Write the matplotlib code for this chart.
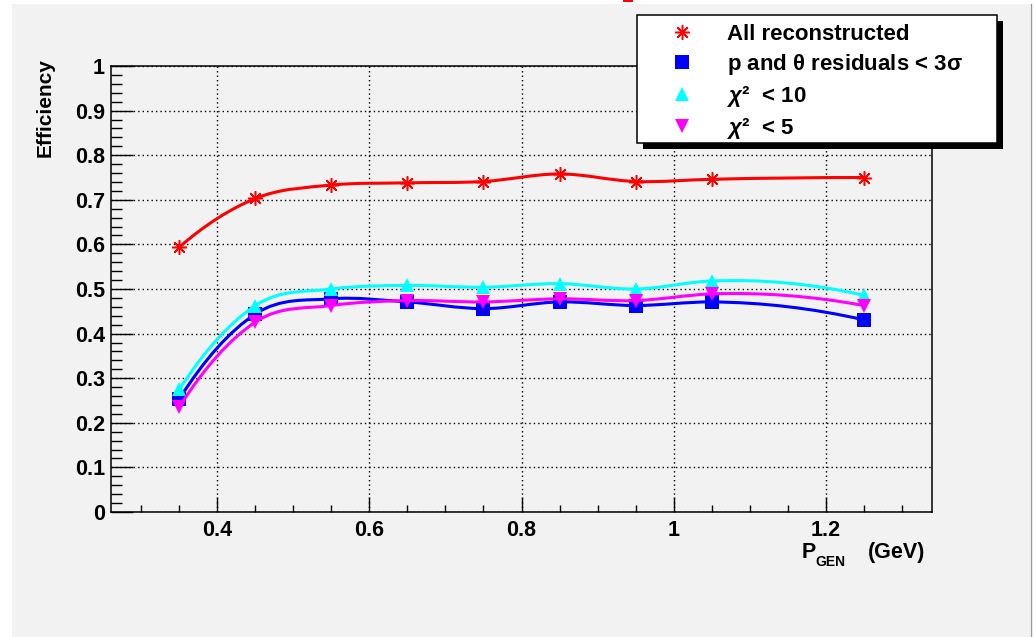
import numpy as np
import matplotlib
matplotlib.use("Agg")
import matplotlib.pyplot as plt
from matplotlib.path import Path
from matplotlib.patches import PathPatch, Rectangle
from matplotlib.lines import Line2D
from matplotlib.ticker import FixedLocator, MultipleLocator

# ---- data -------------------------------------------------------------
# generated momentum bins (GeV)
p_gen = [0.35, 0.45, 0.55, 0.65, 0.75, 0.85, 0.95, 1.05, 1.25]

eff_all = [0.594, 0.703, 0.733, 0.738, 0.741, 0.758, 0.741, 0.746, 0.750]
eff_resid = [0.254, 0.444, 0.478, 0.471, 0.456, 0.471, 0.463, 0.471, 0.431]
eff_chi10 = [0.275, 0.463, 0.500, 0.508, 0.504, 0.512, 0.500, 0.518, 0.486]
eff_chi5 = [0.236, 0.426, 0.463, 0.474, 0.471, 0.478, 0.474, 0.489, 0.463]

series_labels = [
    "All reconstructed",
    r"p and $\mathsf{\theta}$ residuals < 3$\mathsf{\sigma}$",
    r"$\chi$²  < 10",
    r"$\chi$²  < 5",
]

x_ticks = [0.4, 0.6, 0.8, 1.0, 1.2]
x_tick_labels = ["0.4", "0.6", "0.8", "1", "1.2"]
y_ticks = [0.0, 0.1, 0.2, 0.3, 0.4, 0.5, 0.6, 0.7, 0.8, 0.9, 1.0]
y_tick_labels = ["0", "0.1", "0.2", "0.3", "0.4", "0.5", "0.6", "0.7", "0.8", "0.9", "1"]

# ---- style ------------------------------------------------------------
plt.rcParams["font.family"] = ["Liberation Sans", "DejaVu Sans"]
plt.rcParams["font.weight"] = "bold"
plt.rcParams["mathtext.fontset"] = "custom"
plt.rcParams["mathtext.rm"] = "Liberation Sans:bold"
plt.rcParams["mathtext.bf"] = "Liberation Sans:bold"
plt.rcParams["mathtext.it"] = "Liberation Sans:italic"
plt.rcParams["mathtext.sf"] = "Liberation Sans"

W, H = 1034, 637
DPI = 100
fig = plt.figure(figsize=(W / DPI, H / DPI), dpi=DPI)
fig.patch.set_facecolor("white")


def fx(px):
    return px / W


def fy(py):
    return 1 - py / H


# canvas fill
fig.add_artist(Rectangle((fx(12), 0), fx(1030) - fx(12), fy(4), transform=fig.transFigure,
                         facecolor="#f2f2f2", edgecolor="none", zorder=-10))
fig.add_artist(Line2D([fx(1030.5), fx(1030.5)], [0, fy(4)], transform=fig.transFigure,
                      color="#9a9a9a", lw=1.0, zorder=-9))
# edge of the page heading, clipped at the top
fig.add_artist(Rectangle((fx(623), fy(2)), fx(10), fy(0) - fy(2), transform=fig.transFigure,
                         facecolor="red", edgecolor="none", zorder=-8))

ax = fig.add_axes([fx(111), fy(512), fx(932) - fx(111), fy(66) - fy(512)])
ax.set_facecolor("none")
ax.set_xlim(0.26, 1.34)
ax.set_ylim(0, 1)

for s in ax.spines.values():
    s.set_linewidth(1.1)
    s.set_color("black")

ax.xaxis.set_major_locator(FixedLocator(x_ticks))
ax.set_xticklabels(x_tick_labels)
ax.xaxis.set_minor_locator(MultipleLocator(0.05))
ax.yaxis.set_major_locator(FixedLocator(y_ticks))
ax.set_yticklabels(y_tick_labels)
ax.yaxis.set_minor_locator(MultipleLocator(0.02))

ax.tick_params(axis="x", which="major", direction="in", length=10.8, width=1.0, pad=5.5,
               labelsize=15.5, top=False)
ax.tick_params(axis="x", which="minor", direction="in", length=5.0, width=1.0, top=False)
ax.tick_params(axis="y", which="major", direction="in", length=15.8, width=1.0, pad=4.5,
               labelsize=15.5, right=False)
ax.tick_params(axis="y", which="minor", direction="in", length=7.9, width=1.0, right=False)

ax.grid(True, which="major", color="black", linestyle=(0, (1, 2.2)), linewidth=1.0)
ax.set_axisbelow(True)


def smooth_path(x, y):
    """Cubic Bezier path through the points, tangents from local parabolas."""
    x = np.asarray(x, float)
    y = np.asarray(y, float)
    n = len(x)
    m = np.empty(n)
    for i in range(n):
        j = min(max(i - 1, 0), n - 3)
        c = np.polyfit(x[j:j + 3], y[j:j + 3], 2)
        m[i] = 2 * c[0] * x[i] + c[1]
    verts = [(x[0], y[0])]
    codes = [Path.MOVETO]
    for i in range(n - 1):
        h = x[i + 1] - x[i]
        verts += [(x[i] + h / 3, y[i] + m[i] * h / 3),
                  (x[i + 1] - h / 3, y[i + 1] - m[i + 1] * h / 3),
                  (x[i + 1], y[i + 1])]
        codes += [Path.CURVE4] * 3
    return Path(verts, codes)


series = [
    (eff_all, "#ff0000", (8, 2, 0), 10.5, 1.1),
    (eff_resid, "#0000ff", "s", 9.5, 0),
    (eff_chi10, "#00ffff", "^", 10.0, 0),
    (eff_chi5, "#ff00ff", "v", 10.0, 0),
]

handles = []
for k, (vals, col, mk, ms, mew) in enumerate(series):
    ax.add_patch(PathPatch(smooth_path(p_gen, vals), facecolor="none", edgecolor=col,
                           lw=2.2, zorder=3 + k))
    ax.plot(p_gen, vals, linestyle="none", marker=mk, ms=ms, color=col,
            markeredgecolor=col, mew=mew, zorder=3.5 + k)
    handles.append(Line2D([], [], linestyle="none", marker=mk, ms=ms, color=col,
                          markeredgecolor=col, mew=mew))

# axis titles
fig.text(fx(45), fy(58), "Efficiency", rotation=90, ha="center", va="top",
         fontsize=15, fontweight="bold")
fig.text(fx(802), fy(558), "P", ha="left", va="baseline", fontsize=15.5, fontweight="bold")
fig.text(fx(815), fy(566), "GEN", ha="left", va="baseline", fontsize=10, fontweight="bold")
fig.text(fx(925), fy(558), "(GeV)", ha="right", va="baseline", fontsize=15.5,
         fontweight="bold")

# legend box with drop shadow
fig.add_artist(Rectangle((fx(643), fy(149)), fx(360), fy(0) - fy(128), transform=fig.transFigure,
                         facecolor="black", edgecolor="none", zorder=3))
fig.add_artist(Rectangle((fx(637), fy(143)), fx(360), fy(0) - fy(128), transform=fig.transFigure,
                         facecolor="white", edgecolor="black", lw=1.1, zorder=3.1))
fs_px = 16 * DPI / 72
fig.legend(handles, series_labels, loc="upper left",
           bbox_to_anchor=(fx(682 - fs_px / 2), fy(24)),
           frameon=False, fontsize=16, handlelength=1.0,
           handletextpad=(727 - 682 - fs_px / 2) / fs_px,
           borderpad=0, borderaxespad=0, labelspacing=0.31)

fig.savefig("out.png", dpi=DPI)
